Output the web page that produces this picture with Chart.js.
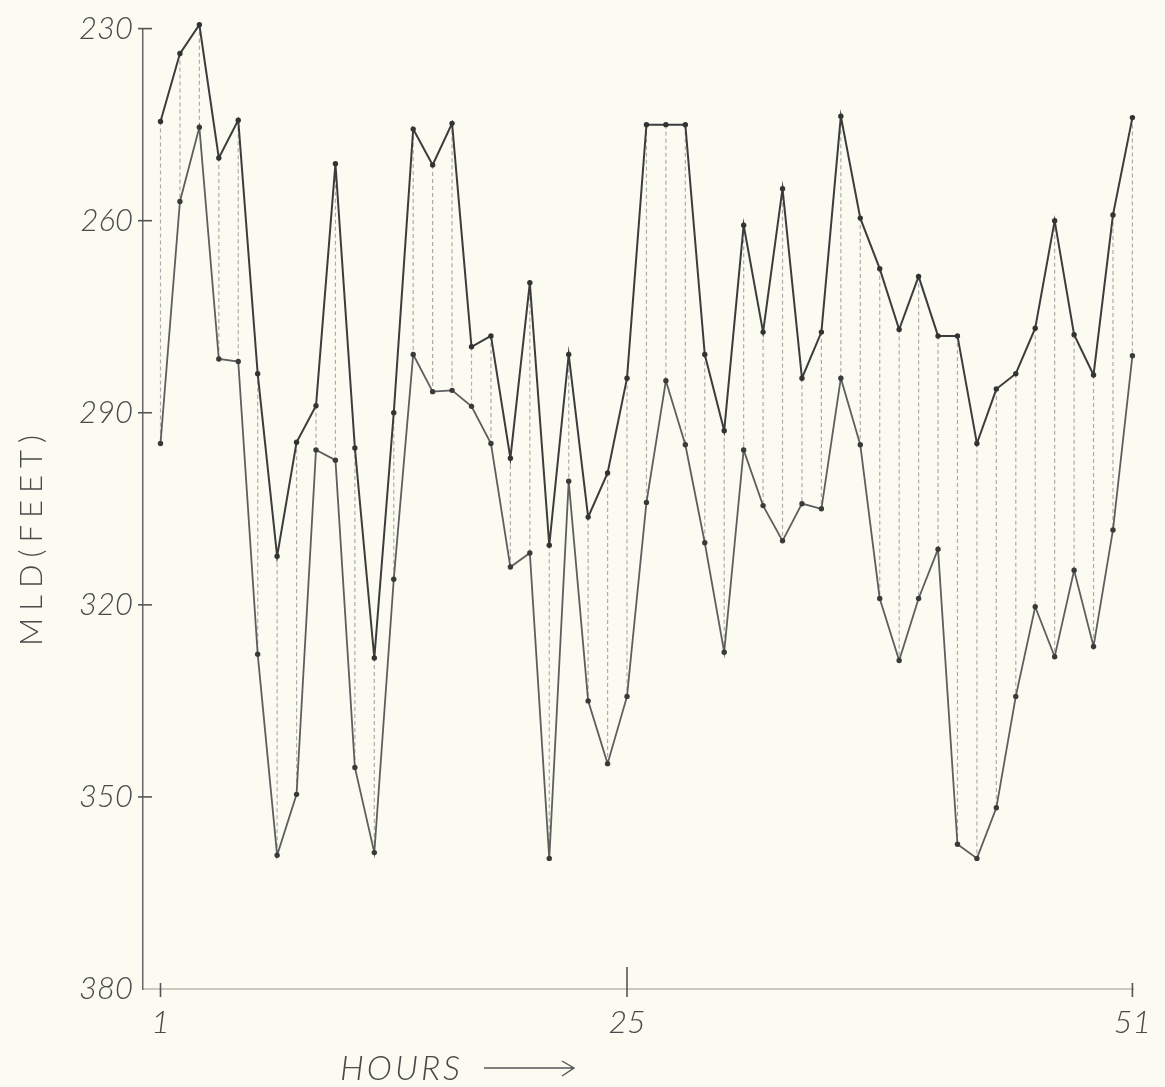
<!DOCTYPE html>
<html>
<head>
<meta charset="utf-8">
<title>MLD (feet) vs hours</title>
<script src="https://cdn.jsdelivr.net/npm/chart.js@4.4.1/dist/chart.umd.min.js"></script>
<style>
  html, body { margin: 0; padding: 0; background: #fbfbf2; }
  #wrap { width: 1165px; height: 1087px; }
</style>
</head>
<body>
<div id="wrap"><canvas id="mldChart" width="1165" height="1087"></canvas></div>
<script>
// Hours along the x axis
const hours = [1, 2, 3, 4, 5, 6, 7, 8, 9, 10, 11, 12, 13, 14, 15, 16, 17, 18, 19, 20,
  21, 22, 23, 24, 25, 26, 27, 28, 29, 30, 31, 32, 33, 34, 35, 36, 37, 38, 39, 40,
  41, 42, 43, 44, 45, 46, 47, 48, 49, 50, 51];

// First MLD trace (feet)
const mldA = [244.5, 233.9, 229.4, 250.2, 244.3, 283.9, 312.4, 294.6, 288.9, 251.1,
  295.5, 328.3, 290, 245.7, 251.3, 244.8, 279.7, 278, 297.1, 269.7,
  310.7, 280.9, 306.3, 299.4, 284.6, 245, 245, 245, 280.9, 292.8,
  260.7, 277.4, 255, 284.6, 277.4, 243.7, 259.6, 267.5, 277, 268.7,
  278, 278, 294.8, 286.3, 283.9, 276.8, 260, 277.8, 284.1, 259.1, 243.9];

// Second MLD trace (feet)
const mldB = [294.8, 257, 245.4, 281.6, 282, 327.7, 359.1, 349.6, 295.8, 297.4,
  345.4, 358.7, 316, 280.9, 286.7, 286.5, 289, 294.8, 314.1, 311.9,
  359.6, 300.7, 335, 344.8, 334.3, 304, 285, 295, 310.3, 327.4,
  295.8, 304.5, 310, 304.2, 305, 284.6, 295, 319, 328.7, 319,
  311.3, 357.4, 359.6, 351.7, 334.3, 320.3, 328.1, 314.6, 326.5, 308.3, 281.1];

const yTicks = [230, 260, 290, 320, 350, 380];
const xTicks = [1, 25, 51];

const inkFont = "Lato, 'DejaVu Sans', sans-serif";

// dotted drop line at every hour between the two traces (null breaks the path)
const dropLines = hours.flatMap((h, i) => [
  { x: h, y: mldA[i] },
  { x: h, y: mldB[i] },
  { x: h, y: null }
]);

// tick marks across the axes and the hand-lettered axis titles
const handLettering = {
  id: 'handLettering',
  afterDraw(chart) {
    const { ctx, scales: { x, y } } = chart;
    ctx.save();
    ctx.strokeStyle = '#555';
    ctx.lineWidth = 1.6;
    yTicks.forEach(v => {
      if (v === 380) return;
      const py = y.getPixelForValue(v);
      ctx.beginPath();
      ctx.moveTo(y.right - 5, py);
      ctx.lineTo(y.right + 9, py);
      ctx.stroke();
    });
    xTicks.forEach(v => {
      const px = x.getPixelForValue(v);
      const top = v === 25 ? x.top - 22 : x.top - 6;
      ctx.beginPath();
      ctx.moveTo(px, top);
      ctx.lineTo(px, x.top + 8);
      ctx.stroke();
    });

    ctx.fillStyle = '#4a4a4a';
    ctx.font = 'italic 300 34px ' + inkFont;
    ctx.letterSpacing = '3px';
    ctx.textBaseline = 'alphabetic';
    ctx.fillText('HOURS', 340, 1080);
    // arrow after HOURS
    ctx.beginPath();
    ctx.lineWidth = 1.4;
    ctx.moveTo(484, 1068);
    ctx.lineTo(574, 1068);
    ctx.moveTo(562, 1061);
    ctx.lineTo(574, 1068);
    ctx.lineTo(562, 1076);
    ctx.stroke();

    ctx.translate(42, 537);
    ctx.rotate(-Math.PI / 2);
    ctx.textAlign = 'center';
    ctx.font = '300 31px ' + inkFont;
    ctx.letterSpacing = '7px';
    ctx.fillText('MLD(FEET)', 0, 0);
    ctx.restore();
  }
};

const ctx = document.getElementById('mldChart').getContext('2d');

new Chart(ctx, {
  type: 'line',
  data: {
    datasets: [
      {
        data: dropLines,
        borderColor: 'rgba(120, 120, 120, 0.6)',
        borderWidth: 1.2,
        borderDash: [4, 3],
        pointRadius: 0,
        spanGaps: false,
        order: 3
      },
      {
        data: hours.map((h, i) => ({ x: h, y: mldA[i] })),
        borderColor: '#3c3c3c',
        borderWidth: 2,
        pointRadius: 2.7,
        pointBackgroundColor: '#333',
        pointBorderWidth: 0,
        tension: 0,
        clip: false,
        order: 1
      },
      {
        data: hours.map((h, i) => ({ x: h, y: mldB[i] })),
        borderColor: '#5e5e5e',
        borderWidth: 1.8,
        pointRadius: 2.7,
        pointBackgroundColor: '#3a3a3a',
        pointBorderWidth: 0,
        tension: 0,
        clip: false,
        order: 2
      }
    ]
  },
  options: {
    responsive: false,
    animation: false,
    devicePixelRatio: 1,
    layout: { padding: { top: 22, right: 27, left: 0, bottom: 0 } },
    plugins: {
      legend: { display: false },
      tooltip: { enabled: false }
    },
    scales: {
      x: {
        type: 'linear',
        min: 0.1,
        max: 51.05,
        offset: false,
        afterFit: s => { s.height = 98; },
        afterBuildTicks: s => { s.ticks = xTicks.map(v => ({ value: v })); },
        grid: { drawOnChartArea: false, drawTicks: false },
        border: { color: '#c9c9c2', width: 2, dash: [14, 7] },
        ticks: {
          padding: 14,
          color: '#4a4a4a',
          font: { family: inkFont, size: 32, style: 'italic', weight: 300 },
          maxRotation: 0
        }
      },
      y: {
        reverse: true,
        min: 230,
        max: 380,
        afterFit: s => { s.width = 143; },
        afterBuildTicks: s => { s.ticks = yTicks.map(v => ({ value: v })); },
        grid: { drawOnChartArea: false, drawTicks: false },
        border: { color: '#666', width: 1.5 },
        ticks: {
          padding: 10,
          color: '#4a4a4a',
          font: { family: inkFont, size: 31, style: 'italic', weight: 300 }
        }
      }
    }
  },
  plugins: [handLettering]
});
</script>
</body>
</html>
